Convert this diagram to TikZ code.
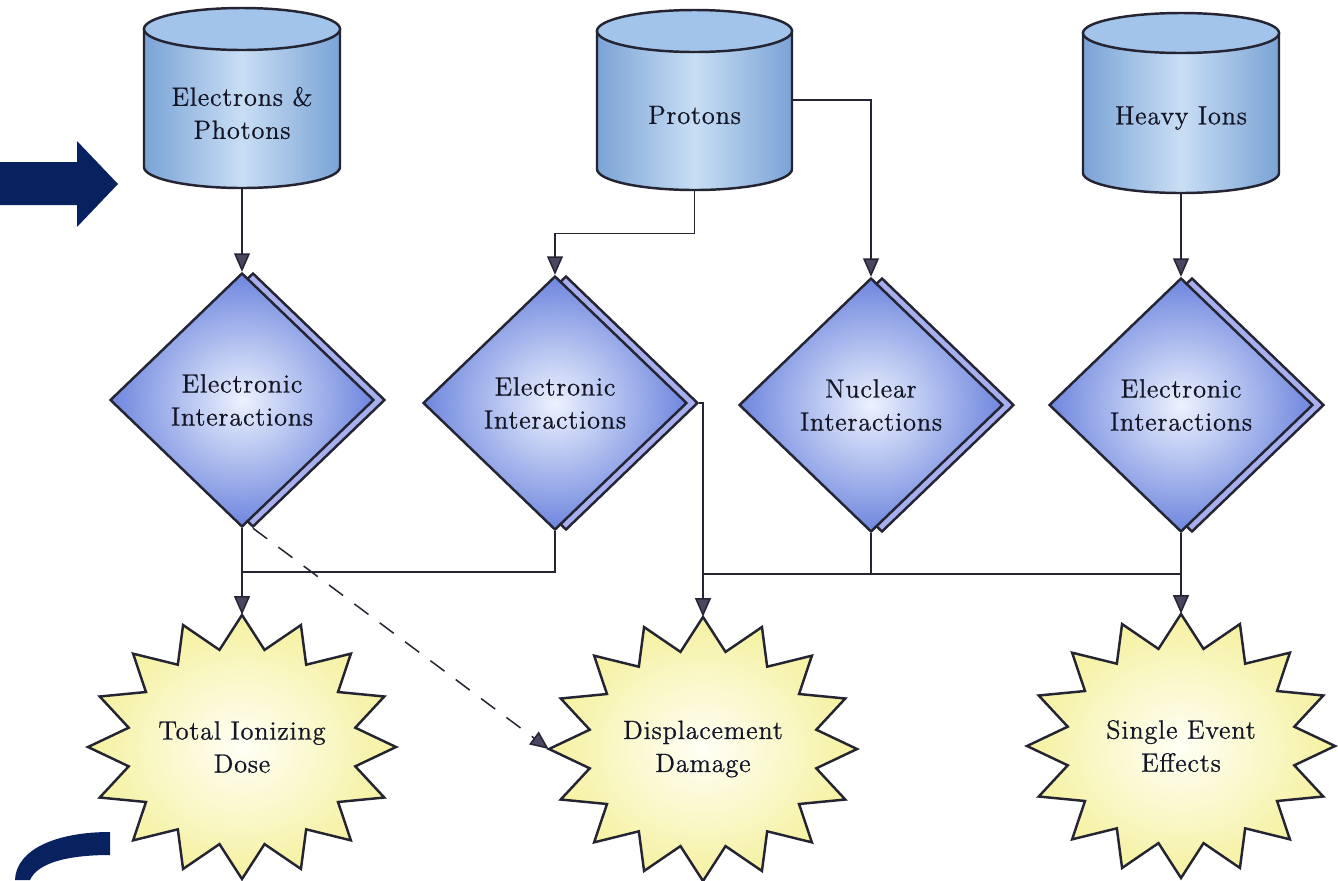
\documentclass[tikz,border=0pt]{standalone}
\usepackage{fontspec}
\setmainfont{lmroman12-regular.otf}
\usetikzlibrary{shapes.geometric,arrows.meta}

\definecolor{inkline}{RGB}{36,36,50}
\definecolor{navy}{RGB}{8,34,96}
\definecolor{textink}{RGB}{20,22,38}
\definecolor{cylside}{RGB}{122,163,214}
\definecolor{cylmid}{RGB}{200,222,244}
\definecolor{cyltop}{RGB}{162,195,234}
\definecolor{diamedge}{RGB}{110,134,222}
\definecolor{diamcore}{RGB}{236,242,254}
\definecolor{diamband}{RGB}{168,175,238}
\definecolor{burstedge}{RGB}{245,241,160}
\definecolor{burstcore}{RGB}{255,255,246}
\definecolor{tipfill}{RGB}{74,70,98}

% cylinder: centre x, top-ellipse centre y, bottom-ellipse centre y, x radius, y radius
\newcommand{\drum}[5]{%
  \path[cylbody] ({#1-#4},#2) -- ({#1-#4},#3)
    arc[start angle=180, end angle=0, x radius=#4, y radius=#5] -- ({#1+#4},#2) -- cycle;
  \path[cyltopfill] (#1,#2) ellipse[x radius=#4, y radius=#5];
}
% sixteen-point burst centred at (#1,#2)
\newcommand{\burst}[2]{%
  \path[burststyle] ({#1},{#2+132})
    \foreach \k in {1,...,31}{
      -- ({#1+154*(1-0.25*isodd(\k))*cos(90+\k*11.25)},{#2+132*(1-0.25*isodd(\k))*sin(90+\k*11.25)})
    } -- cycle;
}

\begin{document}
\begin{tikzpicture}[x=0.02cm,y=-0.02cm,
  labeltext/.style={text=textink, align=center,
    font=\fontsize{15}{18.8}\selectfont\addfontfeatures{LetterSpace=3,FakeBold=0.8}},
  outline/.style={draw=inkline, line width=1.4pt},
  cylbody/.style={outline, left color=cylside, right color=cylside, middle color=cylmid},
  cyltopfill/.style={outline, fill=cyltop},
  hitbox/.style={rectangle, inner sep=0pt},
  diam/.style={diamond, inner sep=0pt, minimum width=5.28cm, minimum height=5.08cm},
  diamfront/.style={diam, outline, inner color=diamcore, outer color=diamedge, labeltext},
  diamback/.style={diam, outline, fill=diamband},
  burststyle/.style={outline, inner color=burstcore, outer color=burstedge},
  burstbox/.style={ellipse, inner sep=0pt, minimum width=6.16cm, minimum height=5.28cm, labeltext},
  link/.style={draw=inkline, line width=0.85pt},
  arrowlink/.style={link, -{Triangle[width=9pt,length=10.5pt,fill=tipfill]}},
  dashlink/.style={arrowlink, dash pattern=on 10pt off 8pt}
]
\useasboundingbox (0,0) rectangle (1338,880);
\fill[white] (0,0) rectangle (1338,880);

% navy pointer and curved stroke
\fill[navy] (0,162) -- (77,162) -- (77,141) -- (118,184) -- (77,227) -- (77,205) -- (0,205) -- cycle;
\fill[navy] (110,832) -- (110,855) .. controls (70,855) and (38,862) .. (30,880)
  -- (15,880) .. controls (16,850) and (55,832) .. (110,832) -- cycle;

% sources
\drum{242}{29}{167}{98}{21}
\drum{694.5}{31}{169}{97.5}{21}
\drum{1181}{33}{173}{98}{20}
\node[hitbox, minimum width=3.92cm, minimum height=3.6cm] (ep) at (242,98) {};
\node[hitbox, minimum width=3.9cm, minimum height=3.6cm] (pr) at (694.5,100) {};
\node[hitbox, minimum width=3.92cm, minimum height=3.6cm] (hi) at (1181,103) {};
\node[labeltext] (eplabel) at (242,113) {Electrons \&\\Photons};
\node[labeltext] (prlabel) at (694.5,115) {Protons};
\node[labeltext] (hilabel) at (1181,118) {Heavy Ions};

% interactions
\node[diamback] (d1s) at (253,400) {};
\node[diamfront] (d1) at (242,400) {Electronic\\Interactions};
\node[diamback] (d2s) at (566,403) {};
\node[diamfront] (d2) at (555,403) {Electronic\\Interactions};
\node[diamback] (d3s) at (882,405) {};
\node[diamfront] (d3) at (871,405) {Nuclear\\Interactions};
\node[diamback] (d4s) at (1192,405) {};
\node[diamfront] (d4) at (1181,405) {Electronic\\Interactions};

% effects
\burst{242}{747}
\burst{703}{749}
\burst{1181}{746}
\node[burstbox] (tid) at (242,747) {Total Ionizing\\Dose};
\node[burstbox] (dd) at (703,749) {Displacement\\Damage};
\node[burstbox] (see) at (1181,746) {Single Event\\Effects};

\coordinate (tidjoin) at (242,572);
\coordinate (ddjoin) at (703,574);
\coordinate (seejoin) at (1181,574);

% connectors
\draw[arrowlink] (ep.south) -- (d1.north);
\draw[arrowlink] (pr.south) -- ++(0,43) -| (d2.north);
\draw[arrowlink] (pr.east) -| (d3.north);
\draw[arrowlink] (hi.south) -- (d4.north);
\draw[arrowlink] (d1.south) -- (tid.north);
\draw[link] (d2.south) |- (tidjoin);
\draw[arrowlink] (d2s.east) -| (dd.north);
\draw[link] (d3.south) |- (ddjoin);
\draw[link] (d3.south) |- (seejoin);
\draw[arrowlink] (d4.south) -- (see.north);
\draw[dashlink] (d1s.south) -- (dd.west);
\end{tikzpicture}
\end{document}
